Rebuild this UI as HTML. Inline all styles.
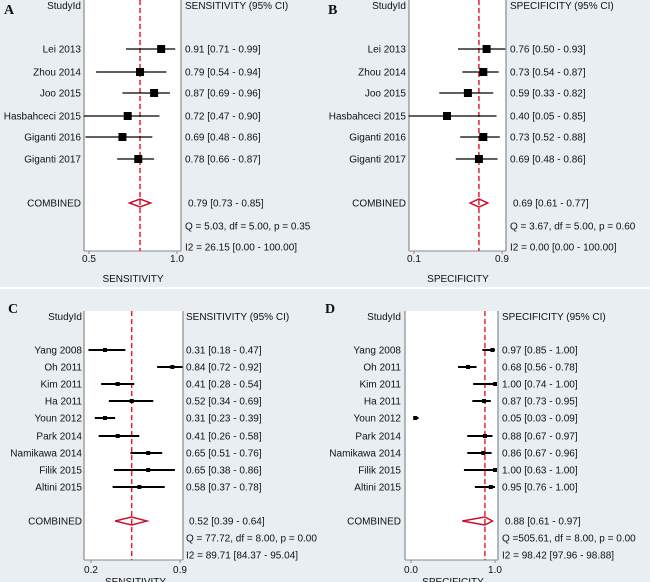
<!DOCTYPE html>
<html><head><meta charset="utf-8"><style>
body{margin:0;background:#e8eef1;}
svg{display:block;font-family:"Liberation Sans",sans-serif;}
</style></head><body>
<svg id="c" width="650" height="582" viewBox="0 0 650 582"></svg>
<script>
const studiesTop = ["Lei 2013","Zhou 2014","Joo 2015","Hasbahceci 2015","Giganti 2016","Giganti 2017"];
const sensA = [0.91,0.79,0.87,0.72,0.69,0.78];
const sensALo = [0.71,0.54,0.69,0.47,0.48,0.66];
const sensAHi = [0.99,0.94,0.96,0.90,0.86,0.87];
const specB = [0.76,0.73,0.59,0.40,0.73,0.69];
const specBLo = [0.50,0.54,0.33,0.05,0.52,0.48];
const specBHi = [0.93,0.87,0.82,0.85,0.88,0.86];
const studiesBot = ["Yang 2008","Oh 2011","Kim 2011","Ha 2011","Youn 2012","Park 2014","Namikawa 2014","Filik 2015","Altini 2015"];
const sensC = [0.31,0.84,0.41,0.52,0.31,0.41,0.65,0.65,0.58];
const sensCLo = [0.18,0.72,0.28,0.34,0.23,0.26,0.51,0.38,0.37];
const sensCHi = [0.47,0.92,0.54,0.69,0.39,0.58,0.76,0.86,0.78];
const specD = [0.97,0.68,1.00,0.87,0.05,0.88,0.86,1.00,0.95];
const specDLo = [0.85,0.56,0.74,0.73,0.03,0.67,0.67,0.63,0.76];
const specDHi = [1.00,0.78,1.00,0.95,0.09,0.97,0.96,1.00,1.00];
const combined = [[0.79,0.73,0.85],[0.69,0.61,0.77],[0.52,0.39,0.64],[0.88,0.61,0.97]];
const qText = ["Q =  5.03, df = 5.00, p =  0.35","Q =  3.67, df = 5.00, p =  0.60","Q = 77.72, df = 8.00, p =  0.00","Q =505.61, df = 8.00, p =  0.00"];
const i2Text = ["I2 = 26.15 [0.00 - 100.00]","I2 = 0.00 [0.00 - 100.00]","I2 = 89.71 [84.37 - 95.04]","I2 = 98.42 [97.96 - 98.88]"];
const tickVals = [[0.5,1.0],[0.1,0.9],[0.2,0.9],[0.0,1.0]];
const tickLabels = [["0.5","1.0"],["0.1","0.9"],["0.2","0.9"],["0.0","1.0"]];

const svg=document.getElementById('c');
const NS='http://www.w3.org/2000/svg';
function mk(tag,attrs,parent){const e=document.createElementNS(NS,tag);for(const k in attrs)e.setAttribute(k,attrs[k]);(parent||svg).appendChild(e);return e;}
function txt(x,y,s,anchor,parent,size,extra){const t=mk('text',Object.assign({x:x,y:y,'font-size':size||10,'text-anchor':anchor||'start',fill:'#111'},extra||{}),parent);t.textContent=s;return t;}
const f2=v=>v.toFixed(2);

const panels=[
 {id:'A',letter:'A',lx:4,ly:14,studies:studiesTop,est:sensA,lo:sensALo,hi:sensAHi,px0:84,px1:181,top:0,bot:251,t0x:89,t1x:177,rows:[49,72,93,116,137,159],comb:203,q:226,i2:247,tickY:262,titleY:282,hdrY:9,labX:81,valX:185,title:'SENSITIVITY',hdr:'SENSITIVITY (95% CI)',sq:8,lw:1.3},
 {id:'B',letter:'B',lx:328,ly:14,studies:studiesTop,est:specB,lo:specBLo,hi:specBHi,px0:409,px1:506,top:0,bot:251,t0x:414,t1x:502,rows:[49,72,93,116,137,159],comb:203,q:226,i2:247,tickY:262,titleY:282,hdrY:9,labX:406,valX:510,title:'SPECIFICITY',hdr:'SPECIFICITY (95% CI)',sq:8,lw:1.3},
 {id:'C',letter:'C',lx:8,ly:313,studies:studiesBot,est:sensC,lo:sensCLo,hi:sensCHi,px0:84,px1:183,top:311,bot:560,t0x:91,t1x:180,rows:[350,367,384,401,418,436,453,470,487],comb:521,q:538,i2:555,tickY:573,titleY:585,hdrY:320,labX:82,valX:186,title:'SENSITIVITY',hdr:'SENSITIVITY (95% CI)',sq:4,lw:2},
 {id:'D',letter:'D',lx:325,ly:313,studies:studiesBot,est:specD,lo:specDLo,hi:specDHi,px0:405,px1:498,top:311,bot:560,t0x:411,t1x:495,rows:[350,367,384,401,418,436,453,470,487],comb:521,q:538,i2:555,tickY:573,titleY:585,hdrY:320,labX:401,valX:502,title:'SPECIFICITY',hdr:'SPECIFICITY (95% CI)',sq:4,lw:2}
];

mk('line',{x1:0,y1:288,x2:650,y2:288,stroke:'#fff','stroke-width':2});

panels.forEach((p,pi)=>{
 const g=mk('g',{});
 
 
 const tv=tickVals[pi];
 const xs=v=>p.t0x+(v-tv[0])/(tv[1]-tv[0])*(p.t1x-p.t0x);
 const l=txt(p.lx,p.ly,p.letter,'start',g,14,{'font-family':'Liberation Serif,serif','font-weight':'bold'});
  
 const area=mk('rect',{x:p.px0,y:p.top,width:p.px1-p.px0,height:p.bot-p.top,fill:'#fff'},g);
  
 mk('line',{x1:p.px0,y1:p.top,x2:p.px0,y2:p.bot,stroke:'#8a8a8a','stroke-width':1.2},g);
 mk('line',{x1:p.px1,y1:p.top,x2:p.px1,y2:p.bot,stroke:'#8a8a8a','stroke-width':1.2},g);
 mk('line',{x1:p.px0,y1:p.bot,x2:p.px1,y2:p.bot,stroke:'#8a8a8a','stroke-width':1},g);
 const cx=xs(combined[pi][0]);
 const ref=mk('line',{x1:cx,y1:p.top,x2:cx,y2:p.bot,stroke:'#e8202a','stroke-width':1.5,'stroke-dasharray':'5,3'},g);
  
 txt(p.labX,p.hdrY,'StudyId','end',g,10);
 txt(p.valX,p.hdrY,p.hdr,'start',g,10);
 p.studies.forEach((s,i)=>{
  const y=p.rows[i];
  const lab=txt(p.labX,y+3.5,s,'end',g,10);
   
  const ci=mk('line',{x1:xs(p.lo[i]),y1:y,x2:xs(p.hi[i]),y2:y,stroke:'#000','stroke-width':p.lw},g);
   
  const sq=mk('rect',{x:xs(p.est[i])-p.sq/2,y:y-p.sq/2,width:p.sq,height:p.sq,fill:'#000'},g);
   
  const v=txt(p.valX,y+3.5,f2(p.est[i])+' ['+f2(p.lo[i])+' - '+f2(p.hi[i])+']','start',g,10);
   
 });
 const c=combined[pi];
 txt(p.labX,p.comb+3.5,'COMBINED','end',g,10);
 const d=mk('polygon',{points:`${xs(c[1])},${p.comb} ${xs(c[0])},${p.comb-4} ${xs(c[2])},${p.comb} ${xs(c[0])},${p.comb+4}`,fill:'none',stroke:'#c8102e','stroke-width':1.5},g);
  
 txt(p.valX+3,p.comb+3.5,f2(c[0])+' ['+f2(c[1])+' - '+f2(c[2])+']','start',g,10);
 txt(p.valX,p.q+3.5,qText[pi],'start',g,10,{'xml:space':'preserve'});
 txt(p.valX,p.i2+3.5,i2Text[pi],'start',g,10);
 tv.forEach((t,k)=>{
  const tx=xs(t);
  mk('line',{x1:tx,y1:p.bot,x2:tx,y2:p.bot+3,stroke:'#8a8a8a'},g);
  const tl=txt(tx,p.tickY,tickLabels[pi][k],'middle',g,10);
   
 });
 const at=txt((p.t0x+p.t1x)/2,p.titleY,p.title,'middle',g,10);
  
});
</script>
</body></html>
